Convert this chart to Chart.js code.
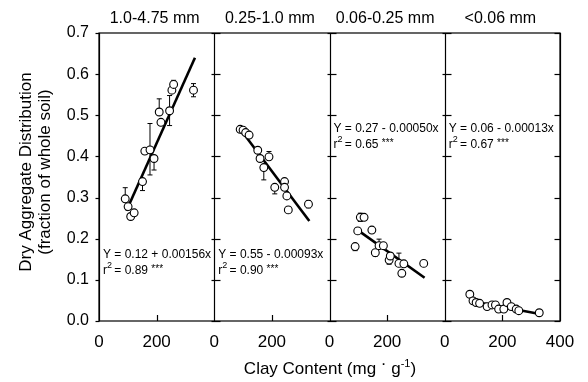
<!DOCTYPE html>
<html>
<head>
<meta charset="utf-8">
<style>
  html, body { margin: 0; padding: 0; background: #fff; }
  #wrap { width: 588px; height: 382px; }
</style>
<script src="https://cdn.jsdelivr.net/npm/chart.js@4.4.1/dist/chart.umd.min.js"></script>
</head>
<body>
<div id="wrap"><canvas id="aggChart" width="588" height="382"></canvas></div>
<script>
// aggregate size classes, one panel each
const panelTitles = ['1.0-4.75 mm', '0.25-1.0 mm', '0.06-0.25 mm', '<0.06 mm'];

// clay content (mg/g) and dry aggregate fraction per panel
const clay1 = [91, 101, 110, 122, 151, 159, 177, 191, 209, 215, 245, 253, 259, 328];
const frac1 = [0.297, 0.278, 0.254, 0.263, 0.339, 0.413, 0.416, 0.395, 0.508, 0.483, 0.511, 0.561, 0.575, 0.561];
const errHi1 = [0.324, null, null, null, null, null, 0.480, null, 0.540, null, 0.548, null, 0.585, 0.577];
const errLo1 = [null, null, null, null, 0.317, null, 0.355, 0.367, null, null, 0.475, null, null, 0.545];

const clay2 = [90, 100, 109, 121, 151, 159, 172, 190, 210, 244, 244, 252, 257, 327];
const frac2 = [0.466, 0.464, 0.458, 0.452, 0.415, 0.395, 0.373, 0.399, 0.325, 0.339, 0.325, 0.304, 0.270, 0.284];
const errHi2 = [null, null, null, null, null, null, null, 0.412, null, 0.345, null, null, null, 0.293];
const errLo2 = [null, null, null, null, null, null, 0.343, null, 0.309, null, null, null, null, 0.275];

const clay3 = [89, 98, 107, 120, 147, 159, 172, 187, 207, 211, 241, 251, 258, 327];
const frac3 = [0.181, 0.219, 0.252, 0.252, 0.221, 0.166, 0.183, 0.183, 0.148, 0.158, 0.140, 0.116, 0.139, 0.140];
const errHi3 = [null, null, 0.262, null, null, null, 0.199, null, null, null, 0.165, null, null, null];
const errLo3 = [0.171, null, 0.242, null, null, 0.157, null, null, 0.138, null, null, null, null, null];

const clay4 = [87, 98, 109, 121, 147, 164, 176, 187, 205, 216, 231, 248, 257, 328];
const frac4 = [0.065, 0.049, 0.045, 0.043, 0.035, 0.039, 0.039, 0.029, 0.029, 0.045, 0.035, 0.029, 0.025, 0.020];

// regression line end points
const fitX = [[95, 333], [95, 330], [98, 330], [95, 330]];
const fitY = [[0.268, 0.640], [0.462, 0.243], [0.221, 0.105], [0.048, 0.017]];

const equations = ['Y = 0.12 + 0.00156x', 'Y = 0.55 - 0.00093x', 'Y = 0.27 - 0.00050x', 'Y = 0.06 - 0.00013x'];
const rSquared = ['0.89', '0.90', '0.65', '0.67'];
const eqLevel = [0.163, 0.163, 0.469, 0.469];

const yTicks = [0, 0.1, 0.2, 0.3, 0.4, 0.5, 0.6, 0.7];
const PANEL_W = 400;

const FONT = '"Liberation Sans", Arial, Helvetica, sans-serif';

const panels = [
  { x: clay1, y: frac1, hi: errHi1, lo: errLo1 },
  { x: clay2, y: frac2, hi: errHi2, lo: errLo2 },
  { x: clay3, y: frac3, hi: errHi3, lo: errLo3 },
  { x: clay4, y: frac4, hi: [], lo: [] }
];

const datasets = [];
panels.forEach(function(p, i) {
  datasets.push({
    type: 'line',
    data: fitX[i].map((v, k) => ({ x: v + i * PANEL_W, y: fitY[i][k] })),
    borderColor: '#000',
    borderWidth: 2.6,
    pointRadius: 0,
    order: 2
  });
  datasets.push({
    type: 'scatter',
    data: p.x.map((v, k) => ({ x: v + i * PANEL_W, y: p.y[k] })),
    pointRadius: 3.9,
    pointBorderWidth: 1.1,
    pointBackgroundColor: '#fff',
    pointBorderColor: '#000',
    order: 1
  });
});

// frame, tick marks, error bars and all the text around the panels
const decor = {
  id: 'decor',
  beforeDatasetsDraw(chart) {
    const ctx = chart.ctx;
    const xs = chart.scales.x, ys = chart.scales.y;
    ctx.save();
    ctx.strokeStyle = '#000';
    ctx.lineWidth = 1;
    panels.forEach(function(p, i) {
      p.x.forEach(function(v, k) {
        const px = xs.getPixelForValue(v + i * PANEL_W);
        const py = ys.getPixelForValue(p.y[k]);
        [p.hi[k], p.lo[k]].forEach(function(e) {
          if (e == null) return;
          const ey = ys.getPixelForValue(e);
          ctx.beginPath();
          ctx.moveTo(px, py);
          ctx.lineTo(px, ey);
          ctx.moveTo(px - 2.5, ey);
          ctx.lineTo(px + 2.5, ey);
          ctx.stroke();
        });
      });
    });
    ctx.restore();
  },
  afterDraw(chart) {
    const ctx = chart.ctx;
    const xs = chart.scales.x, ys = chart.scales.y;
    const a = chart.chartArea;
    ctx.save();
    ctx.strokeStyle = '#000';
    ctx.fillStyle = '#000';
    ctx.lineWidth = 1.2;
    ctx.strokeRect(a.left, a.top, a.right - a.left, a.bottom - a.top);

    for (let i = 0; i <= 4; i++) {
      const bx = Math.round(xs.getPixelForValue(i * PANEL_W)) + 0.5;
      ctx.beginPath();
      ctx.moveTo(bx, a.top);
      ctx.lineTo(bx, a.bottom);
      ctx.stroke();
      yTicks.forEach(function(t) {
        const ty = Math.round(ys.getPixelForValue(t)) + 0.5;
        const l = i === 0 ? bx - 4 : (i === 4 ? bx - 6 : bx - 3);
        const r = i === 0 ? bx : (i === 4 ? bx : bx + 6);
        ctx.beginPath();
        ctx.moveTo(l, ty);
        ctx.lineTo(r, ty);
        ctx.stroke();
      });
      if (i < 4) {
        const mx = Math.round(xs.getPixelForValue(i * PANEL_W + 200)) + 0.5;
        ctx.beginPath();
        ctx.moveTo(mx, a.bottom);
        ctx.lineTo(mx, a.bottom - 6);
        ctx.stroke();
      }
    }

    // panel titles
    ctx.font = '16px ' + FONT;
    ctx.textAlign = 'center';
    ctx.textBaseline = 'middle';
    panelTitles.forEach(function(t, i) {
      const cx = (xs.getPixelForValue(i * PANEL_W) + xs.getPixelForValue((i + 1) * PANEL_W)) / 2;
      ctx.fillText(t, cx - 2, 19);
    });

    // regression annotations
    ctx.textAlign = 'left';
    ctx.textBaseline = 'alphabetic';
    equations.forEach(function(eq, i) {
      const lx = xs.getPixelForValue(i * PANEL_W) + 4;
      const ly = ys.getPixelForValue(eqLevel[i]);
      ctx.font = '12px ' + FONT;
      ctx.fillText(eq, lx, ly + 4);
      const ry = ly + 20;
      ctx.fillText('r', lx, ry);
      const rw = ctx.measureText('r').width;
      ctx.font = '9px ' + FONT;
      ctx.fillText('2', lx + rw, ry - 6);
      ctx.font = '12px ' + FONT;
      const rest = ' = ' + rSquared[i] + ' ';
      ctx.fillText(rest, lx + rw + 4, ry);
      const w2 = ctx.measureText(rest).width;
      ctx.font = '10px ' + FONT;
      ctx.fillText('***', lx + rw + 4 + w2, ry - 2);
    });

    // x axis title with superscripts
    const big = '17px ' + FONT, small = '11px ' + FONT;
    const parts = [
      ['Clay Content (mg ', big, 0],
      ['\u00b7', big, -5],
      [' g', big, 0],
      ['-1', small, -7],
      [')', big, 0]
    ];
    let total = 0;
    parts.forEach(function(p) { ctx.font = p[1]; total += ctx.measureText(p[0]).width; });
    let tx = 330 - total / 2;
    parts.forEach(function(p) {
      ctx.font = p[1];
      ctx.fillText(p[0], tx, 374 + p[2]);
      tx += ctx.measureText(p[0]).width;
    });

    // y axis title, two lines
    ctx.font = '17px ' + FONT;
    ctx.textAlign = 'center';
    ctx.textBaseline = 'middle';
    ctx.translate(26, 172);
    ctx.rotate(-Math.PI / 2);
    ctx.fillText('Dry Aggregate Distribution', 0, 0);
    ctx.fillText('(fraction of whole soil)', 0, 19);
    ctx.restore();
  }
};

new Chart(document.getElementById('aggChart').getContext('2d'), {
  data: { datasets: datasets },
  options: {
    responsive: false,
    animation: false,
    layout: { padding: { top: 33, right: 28, left: 0, bottom: 0 } },
    plugins: { legend: { display: false }, tooltip: { enabled: false } },
    scales: {
      x: {
        type: 'linear',
        min: 0,
        max: 4 * PANEL_W,
        grid: { display: false, drawTicks: false },
        border: { display: false },
        afterBuildTicks: function(s) {
          s.ticks = [];
          for (let v = 0; v <= 4 * PANEL_W; v += 200) s.ticks.push({ value: v });
        },
        afterFit: function(s) { s.height = 61; },
        ticks: {
          autoSkip: false,
          maxRotation: 0,
          padding: 11,
          color: '#000',
          font: { family: FONT, size: 17 },
          callback: function(v) { return v === 4 * PANEL_W ? '400' : String(v % PANEL_W); }
        }
      },
      y: {
        min: 0,
        max: 0.7,
        grid: { display: false, drawTicks: false },
        border: { display: false },
        afterBuildTicks: function(s) { s.ticks = yTicks.map(v => ({ value: v })); },
        afterFit: function(s) { s.width = 99; },
        ticks: {
          padding: 10,
          color: '#000',
          font: { family: FONT, size: 16 },
          callback: function(v) { return v.toFixed(1); }
        }
      }
    }
  },
  plugins: [decor]
});
</script>
</body>
</html>
